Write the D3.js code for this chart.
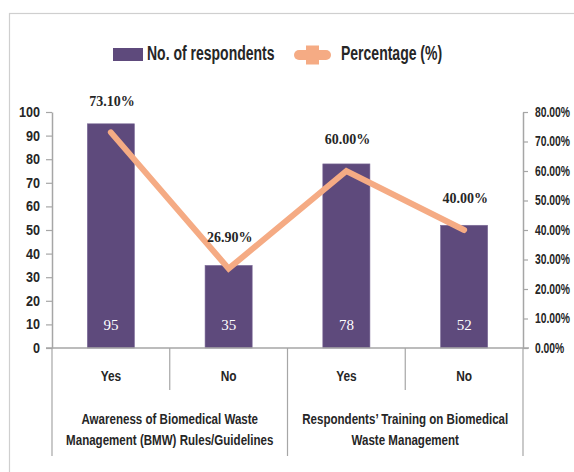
<!DOCTYPE html>
<html>
<head>
<meta charset="utf-8">
<script src="https://cdn.jsdelivr.net/npm/d3@7"></script>
<style>
html,body{margin:0;padding:0;background:#fff;}
svg{display:block;font-family:"Liberation Sans",Arial,sans-serif;}
</style>
</head>
<body>
<svg id="chart" width="574" height="472"></svg>
<script>
const categories = ["Yes", "No", "Yes", "No"];
const groups = ["Awareness of Biomedical Waste|Management (BMW) Rules/Guidelines", "Respondents\u2019 Training on Biomedical|Waste Management"];
const respondents = [95, 35, 78, 52];
const percentages = [73.10, 26.90, 60.00, 40.00];
const leftTicks = [0, 10, 20, 30, 40, 50, 60, 70, 80, 90, 100];
const rightTicks = [0, 10, 20, 30, 40, 50, 60, 70, 80];
const seriesNames = ["No. of respondents", "Percentage (%)"];

const barColor = "#5e4a7c";
const lineColor = "#f5ab84";
const axisColor = "#a6a6a6";
const textColor = "#262626";
const SANS = "'Liberation Sans', Arial, sans-serif";
const SERIF = "'Liberation Serif', 'Times New Roman', serif";

// squeeze text horizontally to imitate a condensed face
function squeeze(sel, k) {
  sel.each(function () {
    const w = this.getComputedTextLength();
    d3.select(this).attr("textLength", w * k).attr("lengthAdjust", "spacingAndGlyphs");
  });
}

const svg = d3.select("#chart");
const pLeft = 52, pRight = 523, pTop = 112, pBottom = 348;

// frame
svg.append("rect").attr("x", 9.5).attr("y", 13.5).attr("width", 600).attr("height", 500)
  .attr("fill", "none").attr("stroke", "#cfcfcf").attr("stroke-width", 1.2);

const idx = categories.map((d, i) => i);
const x = d3.scaleBand().domain(idx).range([pLeft, pRight]).paddingInner(0.6).paddingOuter(0.3);
const yL = d3.scaleLinear().domain([0, 100]).range([pBottom, pTop]);
const yR = d3.scaleLinear().domain([0, 80]).range([pBottom, pTop]);

// bars
svg.append("g").selectAll("rect").data(respondents).join("rect")
  .attr("x", (d, i) => x(i)).attr("y", d => yL(d))
  .attr("width", x.bandwidth()).attr("height", d => yL(0) - yL(d))
  .attr("fill", barColor).attr("stroke", "#7d6c98").attr("stroke-width", 0.6);

// bar value labels
svg.append("g").selectAll("text").data(respondents).join("text")
  .attr("x", (d, i) => x(i) + x.bandwidth() / 2).attr("y", yL(0) - 21)
  .attr("text-anchor", "middle").attr("dominant-baseline", "middle")
  .style("font-family", SERIF)
  .attr("fill", "#fff").attr("font-size", 15).text(d => d);

// left axis
const gL = svg.append("g").attr("transform", `translate(${pLeft},0)`)
  .call(d3.axisLeft(yL).tickValues(leftTicks).tickSize(6).tickSizeOuter(0).tickPadding(6));
gL.attr("font-family", null);
gL.select(".domain").attr("stroke", axisColor).attr("stroke-width", 1.5);
gL.selectAll(".tick line").attr("stroke", axisColor).attr("stroke-width", 1.2);
gL.selectAll(".tick text").attr("fill", textColor).attr("font-size", 14).attr("font-weight", "bold")
  .style("font-family", SANS).call(squeeze, 0.9);

// right axis
const rk = 0.74;
const gR = svg.append("g").attr("transform", `translate(${pRight},0)`)
  .call(d3.axisRight(yR).tickValues(rightTicks).tickSize(5).tickSizeOuter(0).tickPadding(12)
    .tickFormat(d => d.toFixed(2) + "%"));
gR.attr("font-family", null);
gR.select(".domain").attr("stroke", axisColor).attr("stroke-width", 1.5);
gR.selectAll(".tick line").attr("stroke", axisColor).attr("stroke-width", 1.2);
gR.selectAll(".tick text").attr("fill", textColor).attr("font-size", 14).attr("font-weight", "bold")
  .style("font-family", SANS)
  .attr("x", 12 / rk).attr("transform", `scale(${rk},1)`);

// x axis baseline
svg.append("line").attr("x1", pLeft - 6).attr("x2", pRight + 6).attr("y1", pBottom).attr("y2", pBottom)
  .attr("stroke", axisColor).attr("stroke-width", 1.5);

// category separators
const step = x.step();
const bounds = d3.range(categories.length + 1).map(k => pLeft + step * k);
svg.append("g").selectAll("line").data(bounds).join("line")
  .attr("x1", d => d).attr("x2", d => d).attr("y1", pBottom)
  .attr("y2", (d, k) => k % 2 === 0 ? 456 : 390)
  .attr("stroke", axisColor).attr("stroke-width", 1.2);

// category labels
svg.append("g").selectAll("text").data(categories).join("text")
  .attr("x", (d, i) => x(i) + x.bandwidth() / 2).attr("y", 377)
  .attr("text-anchor", "middle").attr("dominant-baseline", "middle")
  .attr("fill", textColor).attr("font-size", 14.5).attr("font-weight", "bold").text(d => d)
  .call(squeeze, 0.82);

// group labels
groups.forEach((g, gi) => {
  const cx = (bounds[gi * 2] + bounds[gi * 2 + 2]) / 2;
  g.split("|").forEach((ln, li) => {
    svg.append("text").attr("x", cx).attr("y", 420 + li * 21)
      .attr("text-anchor", "middle").attr("dominant-baseline", "middle")
      .attr("fill", textColor).attr("font-size", 15).attr("font-weight", "bold").text(ln)
      .call(squeeze, 0.77);
  });
});

// line
const line = d3.line().x((d, i) => x(i) + x.bandwidth() / 2).y(d => yR(d));
svg.append("path").datum(percentages).attr("d", line)
  .attr("fill", "none").attr("stroke", lineColor).attr("stroke-width", 6)
  .attr("stroke-linecap", "round").attr("stroke-linejoin", "miter");

// percentage labels
svg.append("g").selectAll("text").data(percentages).join("text")
  .attr("x", (d, i) => x(i) + x.bandwidth() / 2 + 1).attr("y", d => yR(d) - 30)
  .attr("text-anchor", "middle").attr("dominant-baseline", "middle")
  .style("font-family", SERIF)
  .attr("fill", textColor).attr("font-size", 14).attr("font-weight", "bold")
  .text(d => d.toFixed(2) + "%");

// legend
const lg = svg.append("g");
lg.append("rect").attr("x", 113).attr("y", 48).attr("width", 30).attr("height", 13).attr("fill", barColor);
lg.append("text").attr("x", 147).attr("y", 55).attr("dominant-baseline", "middle")
  .attr("fill", textColor).attr("font-size", 20).attr("font-weight", "bold").text(seriesNames[0])
  .call(squeeze, 0.7);
lg.append("line").attr("x1", 299).attr("x2", 326).attr("y1", 55).attr("y2", 55)
  .attr("stroke", lineColor).attr("stroke-width", 10).attr("stroke-linecap", "round");
lg.append("rect").attr("x", 306).attr("y", 45.5).attr("width", 13).attr("height", 19).attr("fill", lineColor);
lg.append("text").attr("x", 341).attr("y", 55).attr("dominant-baseline", "middle")
  .attr("fill", textColor).attr("font-size", 20).attr("font-weight", "bold").text(seriesNames[1])
  .call(squeeze, 0.7);
</script>
</body>
</html>
